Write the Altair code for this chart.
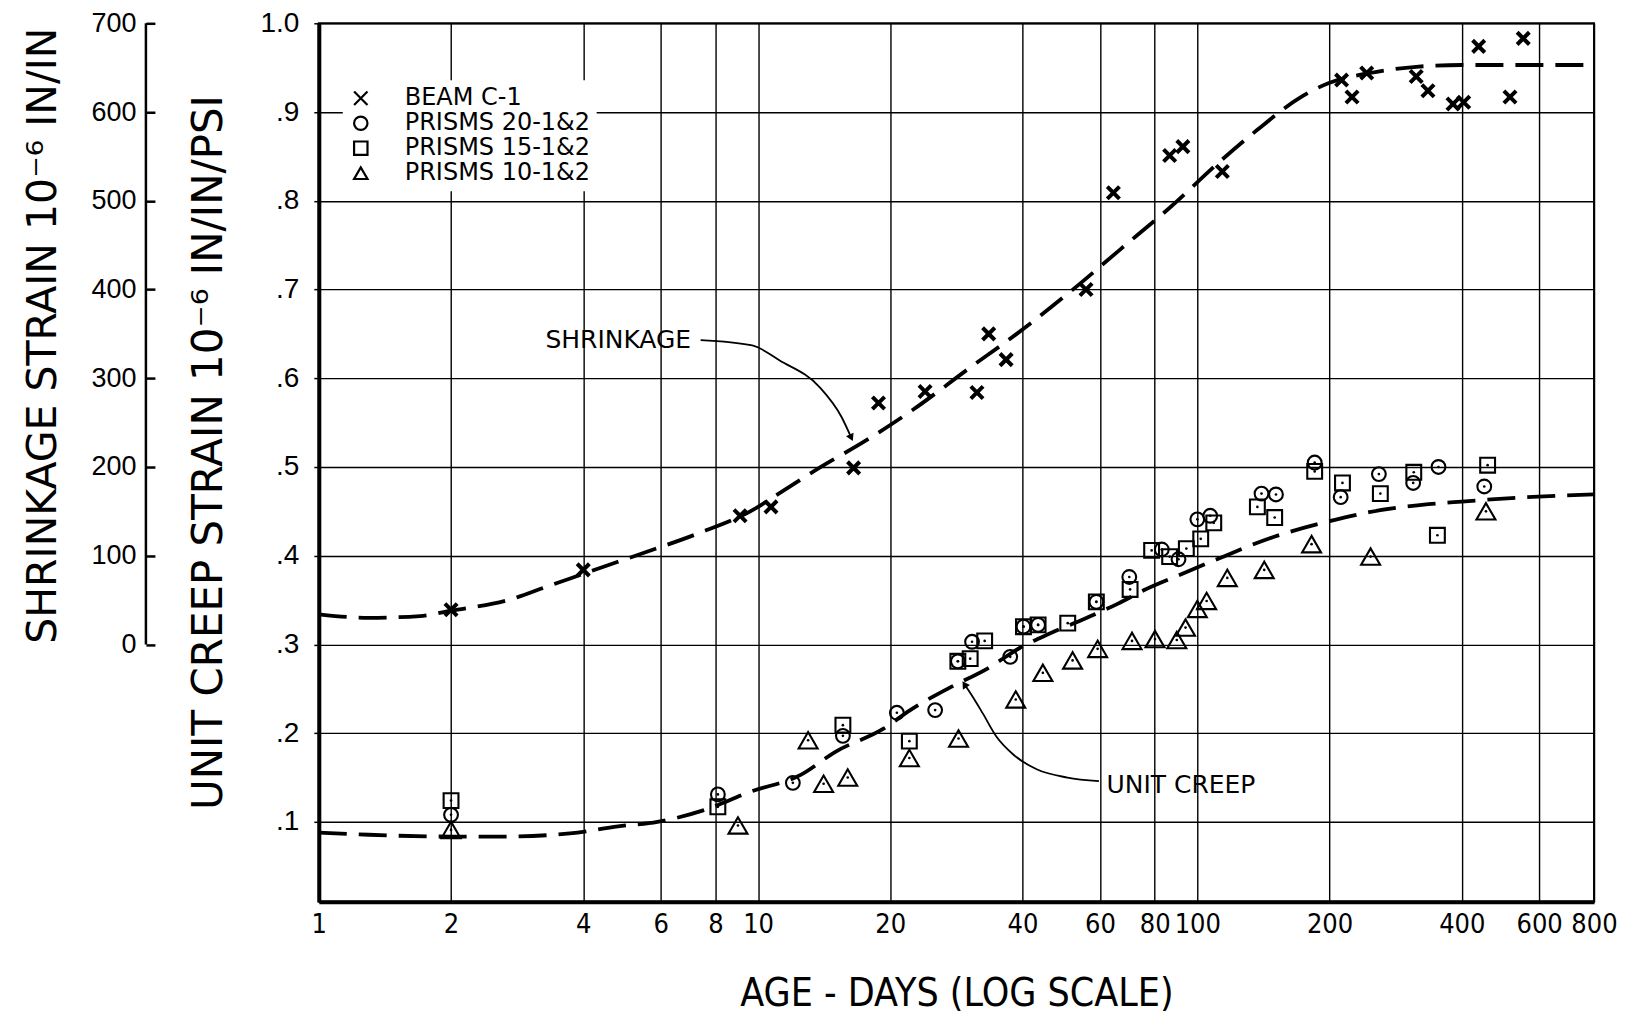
import altair as alt
import pandas as pd

# ---------------- data ----------------
series_names = ["BEAM C-1", "PRISMS 20-1&2", "PRISMS 15-1&2", "PRISMS 10-1&2"]

beam_x = [2, 4, 9.1, 10.7, 16.5, 18.8, 24, 31.5, 33.5, 36.7, 55.8, 64.4, 86.5, 92.7, 114,
          213, 225, 243, 315, 335, 382, 404, 437, 515, 552]
beam_y = [0.339, 0.384, 0.445, 0.455, 0.499, 0.572, 0.585, 0.584, 0.650, 0.621, 0.700, 0.809,
          0.851, 0.861, 0.833, 0.936, 0.917, 0.944, 0.940, 0.924, 0.909, 0.911, 0.974, 0.917, 0.983]

p20_x = [2, 8.1, 12.0, 15.6, 20.7, 25.3, 28.5, 30.7, 37.5, 40.2, 43.4, 58.9, 70, 83, 90.6,
         100, 107, 140, 151, 185, 212, 259, 310, 354, 450]
p20_y = [0.108, 0.131, 0.144, 0.197, 0.223, 0.226, 0.281, 0.303, 0.286, 0.320, 0.322, 0.348,
         0.376, 0.407, 0.396, 0.441, 0.445, 0.470, 0.469, 0.505, 0.466, 0.492, 0.482, 0.500, 0.478]

p15_x = [2, 8.1, 15.6, 22.1, 28.5, 30.4, 32.8, 40.2, 43.4, 50.7, 58.9, 70.3, 78.7, 86.5, 94.4,
         101.8, 109, 137, 150, 185, 214, 261, 311, 352, 458]
p15_y = [0.124, 0.117, 0.209, 0.191, 0.281, 0.284, 0.304, 0.320, 0.322, 0.324, 0.348, 0.362,
         0.406, 0.399, 0.408, 0.419, 0.437, 0.455, 0.443, 0.495, 0.482, 0.470, 0.494, 0.423, 0.502]

p10_x = [2, 9.0, 13.0, 14.1, 16.0, 22.1, 28.6, 38.6, 44.5, 52, 59.3, 71, 80.1, 89.8, 94,
         100, 105, 117, 142, 182, 248, 454]
p10_y = [0.091, 0.096, 0.192, 0.143, 0.150, 0.172, 0.194, 0.238, 0.268, 0.282, 0.295, 0.304,
         0.306, 0.305, 0.319, 0.340, 0.349, 0.375, 0.384, 0.413, 0.399, 0.450]

# dashed fitted curves (unit-creep scale units)
shr_x = [1, 1.3, 1.7, 2, 2.7, 3.3, 4.3, 5.4, 7.3, 9.6, 11.4, 13.9, 17.5, 22.6, 30, 38.8,
         51.8, 66.7, 86, 113, 137, 171, 200, 247, 315, 400, 800]
shr_y = [0.334, 0.330, 0.332, 0.338, 0.350, 0.365, 0.385, 0.402, 0.425, 0.450, 0.473, 0.500,
         0.529, 0.565, 0.610, 0.650, 0.699, 0.745, 0.791, 0.845, 0.880, 0.916, 0.933, 0.944,
         0.951, 0.953, 0.953]

crp_x = [1, 1.3, 2, 2.64, 3.73, 4.8, 5.9, 7.5, 9.6, 12.5, 15, 19.3, 22.2, 27, 33.6, 39.4,
         46, 55.4, 66, 75.5, 90.8, 116, 143, 200, 246, 336, 400, 561, 800]
crp_y = [0.088, 0.0855, 0.0835, 0.0835, 0.087, 0.095, 0.100, 0.113, 0.134, 0.153, 0.179,
         0.205, 0.226, 0.250, 0.274, 0.296, 0.312, 0.329, 0.346, 0.361, 0.378, 0.400, 0.418,
         0.439, 0.449, 0.458, 0.461, 0.466, 0.469]

# annotations
ann_text = ["SHRINKAGE", "UNIT CREEP"]
ann_x = [3.28, 62.1]
ann_y = [0.643, 0.142]
shr_arrow_x = [7.4, 9.7, 11.2, 13.8, 15.5, 16.3]
shr_arrow_y = [0.643, 0.637, 0.620, 0.590, 0.556, 0.533]
crp_arrow_x = [59.7, 50.6, 43.2, 38.1, 34.9, 32.5, 30.8, 29.5]
crp_arrow_y = [0.146, 0.150, 0.159, 0.176, 0.196, 0.222, 0.241, 0.255]
shr_head = {"x": [16.3], "y": [0.533]}
crp_head = {"x": [29.5], "y": [0.255]}

x_ticks = [1, 2, 4, 6, 8, 10, 20, 40, 60, 80, 100, 200, 400, 600, 800]
y_ticks = [0.1, 0.2, 0.3, 0.4, 0.5, 0.6, 0.7, 0.8, 0.9, 1.0]
shr_ticks = [0, 100, 200, 300, 400, 500, 600, 700]

# ---------------- tables ----------------
series_xy = [(beam_x, beam_y), (p20_x, p20_y), (p15_x, p15_y), (p10_x, p10_y)]
frames = [pd.DataFrame({"x": sx, "y": sy, "series": name})
          for (sx, sy), name in zip(series_xy, series_names)]
prisms = pd.concat(frames[1:], ignore_index=True)

curves = pd.concat([
    pd.DataFrame({"x": shr_x, "y": shr_y, "curve": "shr", "o": list(range(len(shr_x)))}),
    pd.DataFrame({"x": crp_x, "y": crp_y, "curve": "crp", "o": list(range(len(crp_x)))}),
], ignore_index=True)
arrows = pd.concat([
    pd.DataFrame({"x": shr_arrow_x, "y": shr_arrow_y, "a": "s", "o": list(range(len(shr_arrow_x)))}),
    pd.DataFrame({"x": crp_arrow_x, "y": crp_arrow_y, "a": "c", "o": list(range(len(crp_arrow_x)))}),
], ignore_index=True)
ann = pd.DataFrame({"x": ann_x, "y": ann_y, "t": ann_text})

# ---------------- scales / axes ----------------
W, H = 1276, 879
NUM_FONT = "Liberation Sans"
COND_FONT = "DejaVu Sans Condensed, DejaVu Sans"
TXT_FONT = "DejaVu Sans"

xscale = alt.Scale(type="log", domain=[1, 800], nice=False)
yscale = alt.Scale(domain=[0.01, 1.0], nice=False, zero=False)

x_axis = alt.Axis(
    values=x_ticks, grid=True, gridColor="black", gridWidth=1.4, gridOpacity=1,
    tickSize=0, labelFont=COND_FONT, labelFontSize=27, labelColor="black",
    labelPadding=10, labelOverlap=False, labelFlush=False,
    labelExpr="format(datum.value, 'd')",
    domain=True, domainColor="black", domainWidth=4,
    title="AGE - DAYS (LOG SCALE)", titleFont=COND_FONT,
    titleFontSize=39, titleFontWeight="normal", titleColor="black", titlePadding=37,
)
y_axis = alt.Axis(
    orient="left", values=y_ticks, grid=True, gridColor="black", gridWidth=1.4, gridOpacity=1,
    tickSize=5, tickColor="black", tickWidth=1.5,
    labelFont=NUM_FONT, labelFontSize=28, labelColor="black", labelPadding=15,
    labelExpr="datum.value > 0.99 ? '1.0' : '.' + format(datum.value * 10, '.0f')",
    domain=True, domainColor="black", domainWidth=4,
    title="UNIT CREEP STRAIN 10⁻⁶ IN/IN/PSI", titleFont=TXT_FONT, titleFontSize=42,
    titleFontWeight="normal", titleColor="black", titleAngle=270, titleAlign="center",
    titleBaseline="middle", titleX=-110, titleY=429,
)
shr_axis = alt.Axis(
    orient="left", offset=164, values=shr_ticks, grid=False, domain=False,
    tickSize=9, tickColor="black", tickWidth=2.5,
    labelFont=NUM_FONT, labelFontSize=27, labelColor="black", labelPadding=10,
    format="d",
    title="SHRINKAGE STRAIN 10⁻⁶ IN/IN", titleFont=TXT_FONT, titleFontSize=41,
    titleFontWeight="normal", titleColor="black", titleAngle=270, titleAlign="center",
    titleBaseline="middle", titleX=-111, titleY=312,
)

X = alt.X("x:Q", scale=xscale, axis=x_axis)
Y = alt.Y("y:Q", scale=yscale, axis=y_axis)

xpath = "M-1,-1L1,1M-1,1L1,-1"
shape_scale = alt.Scale(domain=series_names, range=[xpath, "circle", "square", "triangle-up"])
legend = alt.Legend(
    title=None, orient="none", legendX=24, legendY=57, fillColor="white",
    padding=6, labelFont=TXT_FONT, labelFontSize=24, labelColor="black", labelLimit=500,
    symbolStrokeColor="black", symbolStrokeWidth=2.2, symbolSize=180,
    symbolType="circle", labelOffset=32, rowPadding=1,
)
SHAPE = alt.Shape("series:N", scale=shape_scale, legend=legend)

curve_layer = alt.Chart(curves).mark_line(
    color="black", strokeWidth=3.8, strokeDash=[28, 12], interpolate="monotone"
).encode(X, Y, detail="curve:N", order="o:Q")

arrow_layer = alt.Chart(arrows).mark_line(
    color="black", strokeWidth=1.8, interpolate="monotone"
).encode(X, Y, detail="a:N", order="o:Q")

shr_head_layer = alt.Chart(pd.DataFrame(shr_head)).mark_point(
    filled=True, color="black", opacity=1, size=70, shape="triangle-down", angle=335
).encode(X, Y)
crp_head_layer = alt.Chart(pd.DataFrame(crp_head)).mark_point(
    filled=True, color="black", opacity=1, size=70, shape="triangle-up", angle=327
).encode(X, Y)

mark_sizes = [150, 190, 220, 360]
mark_widths = [4.0, 2.1, 2.1, 2.1]
point_layers = [
    alt.Chart(f).mark_point(filled=False, color="black", opacity=1, size=s, strokeWidth=w)
    .encode(X, Y, shape=SHAPE)
    for f, s, w in zip(frames, mark_sizes, mark_widths)
]

dot_layer = alt.Chart(prisms).mark_point(
    filled=True, shape="circle", size=7, color="black", opacity=1
).encode(X, Y)

text_layer = alt.Chart(ann).mark_text(
    align="left", baseline="middle", font=TXT_FONT, fontSize=25, color="black"
).encode(X, Y, text="t:N")

main = alt.layer(curve_layer, arrow_layer, shr_head_layer, crp_head_layer,
                 *point_layers, dot_layer, text_layer)

shr_layer = alt.Chart(pd.DataFrame({"s": [shr_ticks[0]], "s2": [shr_ticks[-1]]})).mark_rule(
    color="black", strokeWidth=2.5
).encode(
    y=alt.Y("s:Q", scale=alt.Scale(domain=[-290, 700], nice=False, zero=False), axis=shr_axis),
    y2="s2:Q",
    x=alt.value(-173),
)

chart = alt.layer(main, shr_layer).resolve_scale(y="independent").properties(
    width=W, height=H,
    autosize=alt.AutoSizeParams(type="none"),
    padding={"left": 311, "top": 15, "right": 36, "bottom": 114},
    background="white",
).configure_view(stroke="black", strokeWidth=2)

chart.save("out.html", embed_options={"renderer": "svg", "actions": False})
